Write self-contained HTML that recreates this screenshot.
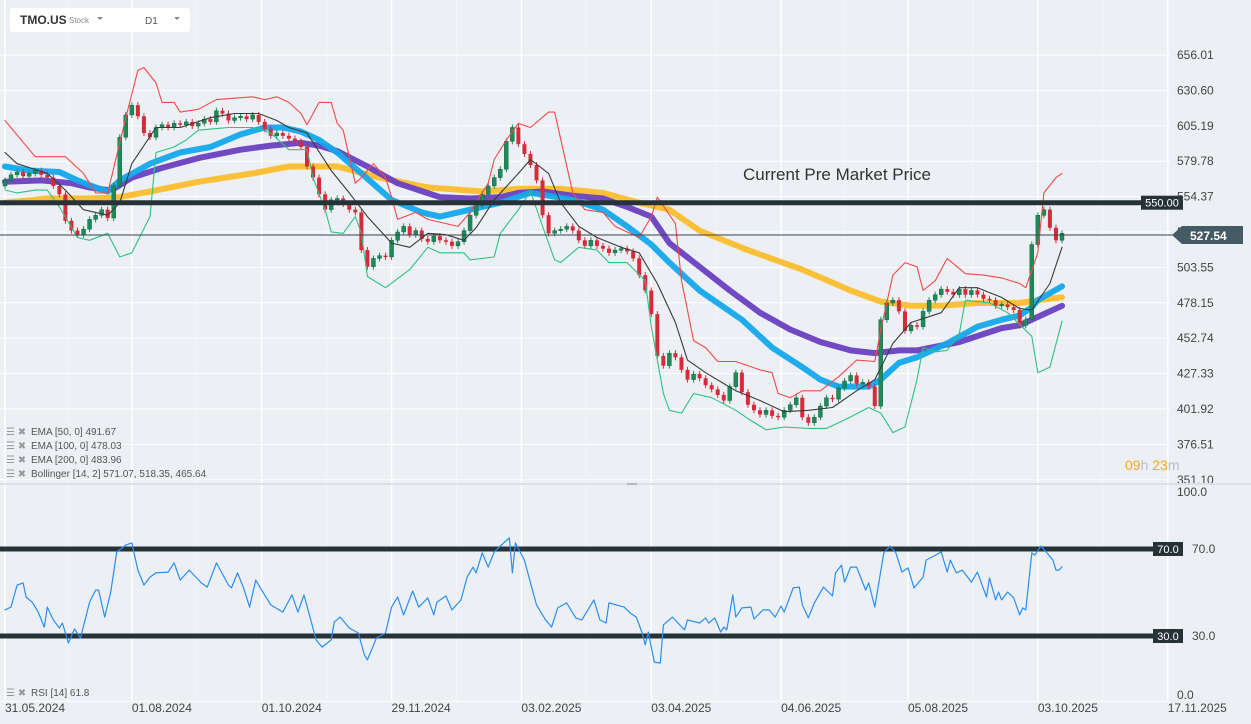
<!DOCTYPE html>
<html><head><meta charset="utf-8"><style>
html,body{margin:0;padding:0;background:#eceff3;}
body{width:1251px;height:724px;overflow:hidden;position:relative;font-family:"Liberation Sans",sans-serif;}
svg{position:absolute;left:0;top:0;}
</style></head><body>
<svg id="chart" width="1251" height="724" viewBox="0 0 1251 724" xmlns="http://www.w3.org/2000/svg">
<rect x="0" y="0" width="1251" height="724" fill="#eceff3"/>
<g id="grid"></g>
<g id="ema"></g>
<g id="candles"></g>
<g id="boll"></g>
<g id="rsi"></g>
<g id="axes"></g>
<g id="overlay">
  <line x1="0" y1="484" x2="1251" y2="484" stroke="#dde1e6" stroke-width="2"/>
  <rect x="627" y="483" width="10" height="2" fill="#b0b6bd"/>
  <line x1="0" y1="235" x2="1174" y2="235" stroke="#37474f" stroke-width="1"/>
  <path d="M1172,235 L1182,226 L1243,226 L1243,244 L1182,244 Z" fill="#455a64"/>
  <text x="1190" y="240" font-size="12" font-weight="bold" fill="#ffffff">527.54</text>
  <text x="743" y="180" font-size="17" fill="#333">Current Pre Market Price</text>
  <text x="1125" y="470" font-size="14"><tspan fill="#f5a623">09</tspan><tspan fill="#b9bec4">h </tspan><tspan fill="#f5a623">23</tspan><tspan fill="#b9bec4">m</tspan></text>
</g>
<g id="legend" font-size="10" fill="#555">
  <g><text x="6" y="435" fill="#999">☰ ✖</text><text x="31" y="435">EMA  [50,  0]  491.67</text></g>
  <g><text x="6" y="449" fill="#999">☰ ✖</text><text x="31" y="449">EMA  [100,  0]  478.03</text></g>
  <g><text x="6" y="463" fill="#999">☰ ✖</text><text x="31" y="463">EMA  [200,  0]  483.96</text></g>
  <g><text x="6" y="477" fill="#999">☰ ✖</text><text x="31" y="477">Bollinger   [14,  2]  571.07,   518.35,   465.64</text></g>
  <g><text x="6" y="696" fill="#999">☰ ✖</text><text x="31" y="696">RSI  [14]  61.8</text></g>
</g>
<g>
  <rect x="10" y="8" width="180" height="24" rx="3" fill="#ffffff"/>
  <text x="20" y="24" font-size="12" font-weight="bold" fill="#333">TMO.US</text>
  <text x="69" y="23" font-size="8" fill="#888">Stock</text>
  <path d="M97,17 L103,17 L100,20 Z" fill="#888"/>
  <text x="145" y="24" font-size="10" fill="#555">D1</text>
  <path d="M174,17 L180,17 L177,20 Z" fill="#888"/>
</g>
</svg>
<script>
// ---- data ----
const priceTicks = [656.01,630.60,605.19,579.78,554.37,528.96,503.55,478.15,452.74,427.33,401.92,376.51,351.10];
const dateLabels = ["31.05.2024","01.08.2024","01.10.2024","29.11.2024","03.02.2025","03.04.2025","04.06.2025","05.08.2025","03.10.2025","17.11.2025"];
const dateDays = [0,42,85,128,171,214,257,299,342,385];
// closes sampled every 2 trading days
const closes = [566,570,572,569,571,573,570,568,562,556,537,530,527,531,538,541,545,539,562,597,613,620,612,600,597,604,606,604,607,606,608,605,607,610,608,616,614,609,611,612,610,613,608,603,598,600,598,596,594,590,576,568,556,545,552,553,549,545,543,516,504,510,512,511,523,529,533,527,530,524,522,526,523,522,519,522,530,541,548,556,562,568,574,594,604,592,585,577,566,541,528,530,531,533,530,523,519,523,519,517,514,516,517,515,510,498,487,470,440,433,442,439,430,423,427,424,419,416,412,408,418,428,414,405,401,398,401,397,396,401,405,410,396,392,396,404,410,409,417,422,426,420,421,418,404,466,478,480,472,458,462,461,472,480,484,488,486,484,488,484,487,484,481,480,476,477,475,473,462,466,520,541,545,532,523,528];
const firstOpen = 562;
// indicator series: [barIndex (2-day), value]
const ema50 = [[0,576],[4,573],[9,572],[12,566],[15,561],[17,558],[19,566],[24,578],[29,586],[34,590],[39,599],[43,604],[46,604],[49,601],[52,595],[55,586],[59,571],[64,552],[69,543],[72,540],[77,545],[82,550],[87,557],[90,555],[94,552],[99,545],[103,533],[107,520],[110,507],[115,487],[118,478],[122,466],[127,446],[132,432],[135,423],[138,418],[143,418],[145,423],[148,435],[151,439],[156,449],[161,461],[165,466],[168,469],[170,475],[171,480],[175,490]];
const ema100 = [[0,565],[6,566],[11,564],[14,561],[17,559],[18,560],[21,568],[26,575],[32,582],[39,588],[44,591],[49,593],[52,591],[55,587],[60,576],[65,564],[72,554],[77,553],[82,554],[85,557],[89,558],[94,555],[99,553],[103,547],[107,540],[110,521],[115,504],[120,487],[125,471],[130,459],[135,450],[140,444],[144,442],[148,444],[151,444],[158,450],[165,460],[168,462],[171,468],[175,476]];
const ema200 = [[0,550],[7,553],[14,553],[19,554],[24,558],[32,565],[41,571],[47,576],[52,576],[55,576],[62,568],[70,561],[79,558],[85,560],[92,560],[99,557],[105,550],[110,545],[115,530],[123,516],[132,502],[140,487],[145,479],[150,476],[155,476],[161,478],[168,478],[171,480],[175,482]];
const bbUpper = [[0,609],[5,583],[10,583],[13,571],[15,557],[17,557],[20,611],[22,645],[23,647],[25,636],[26,622],[28,622],[29,615],[32,617],[35,624],[38,625],[41,626],[43,624],[45,626],[47,622],[49,614],[50,606],[52,622],[54,622],[55,607],[56,602],[58,564],[59,568],[61,578],[63,568],[64,554],[65,538],[68,543],[70,538],[75,533],[77,543],[80,564],[81,581],[83,595],[85,607],[87,604],[90,615],[91,615],[94,557],[96,545],[99,543],[101,533],[105,525],[107,540],[108,554],[111,535],[112,494],[114,451],[116,446],[118,436],[121,436],[125,430],[127,428],[128,413],[130,410],[132,415],[135,415],[138,425],[141,437],[144,436],[145,459],[147,498],[149,507],[151,504],[152,487],[154,494],[156,510],[159,499],[162,498],[165,496],[168,492],[169,489],[171,514],[172,557],[174,568],[175,571]];
const bbLower = [[0,559],[2,557],[5,559],[7,559],[9,547],[12,525],[14,523],[17,528],[19,511],[21,514],[24,540],[25,586],[28,590],[30,595],[32,602],[37,604],[41,604],[44,600],[47,588],[50,588],[51,568],[53,545],[54,529],[56,528],[58,540],[59,528],[60,497],[63,489],[67,502],[70,518],[72,514],[76,514],[77,509],[81,511],[82,528],[85,545],[87,558],[89,533],[91,509],[92,507],[95,518],[98,516],[100,507],[103,507],[106,494],[107,461],[109,413],[110,401],[112,399],[114,413],[117,410],[121,401],[123,395],[126,387],[129,389],[133,388],[136,388],[139,394],[143,403],[145,399],[147,385],[149,389],[151,423],[152,446],[154,443],[156,444],[158,456],[159,480],[163,478],[166,471],[170,454],[171,428],[173,432],[175,465]];
const bbMid = [[0,586],[2,578],[7,571],[10,559],[13,545],[17,541],[19,550],[21,578],[25,604],[29,604],[34,611],[38,614],[42,614],[45,609],[47,604],[50,600],[54,573],[57,557],[60,540],[64,521],[67,518],[70,528],[73,527],[76,523],[78,532],[81,552],[85,571],[87,581],[90,571],[92,550],[95,533],[98,525],[102,518],[105,514],[108,492],[111,464],[113,437],[116,428],[121,415],[125,408],[129,400],[133,401],[137,403],[141,415],[144,423],[147,449],[150,464],[155,471],[158,489],[161,489],[165,482],[168,474],[170,473],[173,492],[175,518]];
// RSI: [tradingDay, value]
const rsi = [[0,42.0],[2,43.3],[4,53.4],[6,54.4],[7,47.9],[9,45.6],[11,41.0],[13,34.1],[14,43.3],[16,37.4],[18,33.7],[19,36.0],[21,26.8],[23,33.2],[25,29.1],[28,45.6],[30,51.1],[31,51.1],[33,38.7],[35,50.2],[37,68.6],[40,71.8],[42,72.8],[44,60.3],[46,53.4],[48,57.1],[50,59.0],[54,59.4],[56,63.6],[58,55.7],[61,60.3],[65,54.4],[67,52.5],[70,63.6],[74,53.4],[75,52.1],[77,59.0],[79,52.1],[81,43.3],[83,55.7],[85,51.1],[88,44.3],[92,41.0],[95,48.9],[97,41.0],[99,48.9],[101,38.7],[103,28.2],[105,24.9],[108,28.2],[109,36.4],[111,38.7],[114,33.7],[117,31.4],[119,21.3],[120,19.0],[123,29.1],[126,31.4],[128,43.3],[130,47.9],[132,39.7],[135,50.7],[137,43.3],[140,47.5],[142,39.7],[143,45.6],[146,48.4],[148,42.0],[151,46.6],[153,57.1],[155,61.7],[156,59.0],[158,68.2],[160,61.7],[162,68.6],[164,71.4],[167,75.1],[168,59.0],[169,72.8],[172,64.9],[174,54.4],[176,44.3],[179,37.4],[181,34.1],[183,42.9],[186,45.2],[189,38.3],[191,37.4],[195,46.6],[197,37.4],[199,36.0],[200,45.2],[205,43.3],[207,40.6],[209,38.7],[211,31.4],[212,25.9],[213,31.8],[215,18.0],[217,17.6],[218,35.1],[221,38.7],[225,32.8],[226,37.4],[230,36.0],[232,38.3],[233,36.0],[235,38.3],[237,31.8],[238,34.1],[239,32.8],[241,48.9],[242,38.7],[244,42.9],[247,43.3],[248,37.8],[251,42.0],[253,42.0],[255,38.7],[257,43.8],[258,41.0],[261,52.1],[263,52.5],[264,44.3],[266,38.3],[268,45.2],[271,52.5],[274,48.4],[275,59.0],[277,62.6],[278,54.8],[280,61.7],[282,61.7],[285,51.1],[286,54.4],[288,43.3],[291,68.2],[293,71.4],[295,68.2],[297,59.4],[299,61.3],[301,52.1],[304,57.1],[305,64.9],[307,66.3],[310,68.6],[312,59.4],[313,64.9],[315,59.0],[317,60.3],[320,54.8],[322,59.4],[325,47.9],[326,56.7],[328,46.6],[329,50.2],[330,46.6],[332,50.2],[334,47.5],[336,39.7],[337,42.9],[338,42.0],[340,68.2],[341,67.2],[343,71.4],[345,68.2],[347,64.9],[348,60.3],[349,60.3],[350,61.8]];
const priceLevel = 550.00;
const rsiLevels = [70, 30];
const rsiTicks = [100, 70, 30, 0];

// ---- scales ----
const NS='http://www.w3.org/2000/svg';
const xDay = t => 5 + t*3.02;
const xBar = b => xDay(2*b);
const yP = p => 55 + (656.01 - p)*35.4/25.41;
const yR = v => 636 - (v - 30)*2.175;
function mk(tag, attrs, parent){const e=document.createElementNS(NS,tag);for(const k in attrs)e.setAttribute(k,attrs[k]);parent.appendChild(e);return e;}
const G = id => document.getElementById(id);

// grid
const grid=G('grid');
priceTicks.forEach(p=>{
  const l=mk('line',{x1:0,x2:1170,y1:yP(p),y2:yP(p),stroke:'#ffffff','stroke-width':1},grid);
  
  
});
dateDays.forEach((d,i)=>{
  const l=mk('line',{x1:xDay(d),x2:xDay(d),y1:0,y2:700,stroke:'#ffffff','stroke-width':1.5},grid);
  
  
  if(i<dateDays.length-1){
    const m=(xDay(d)+xDay(dateDays[i+1]))/2;
    const l2=mk('line',{x1:m,x2:m,y1:0,y2:700,stroke:'#f4f6f8','stroke-width':1},grid);
    
    
  }
});
rsiTicks.forEach(v=>{
  const l=mk('line',{x1:0,x2:1170,y1:yR(v),y2:yR(v),stroke:'#ffffff','stroke-width':1},grid);
  
  
});

function poly(data, xf, yf, color, w, parent, name, op){
  const pts=data.map(d=>xf(d[0]).toFixed(1)+','+yf(d[1]).toFixed(1)).join(' ');
  const e=mk('polyline',{points:pts,fill:'none',stroke:color,'stroke-width':w,'stroke-linejoin':'round','stroke-linecap':'round',opacity:op||1},parent);
  
  
  return e;
}
// EMAs
const emaG=G('ema');
poly(ema200,xBar,yP,'#fbbd2c',6,emaG,'ema-200-line',0.95);
poly(ema100,xBar,yP,'#6a3fc0',6,emaG,'ema-100-line',0.95);
poly(ema50,xBar,yP,'#14a8ec',6,emaG,'ema-50-line',0.95);

// candles
const cg=G('candles');
closes.forEach((c,i)=>{
  const o = i===0 ? firstOpen : closes[i-1];
  const up = c>=o;
  const col = up ? '#1d8a5a' : '#d62b3a';
  const x = xBar(i);
  const top = yP(Math.max(o,c)), bot = yP(Math.min(o,c));
  const w = mk('line',{x1:x,x2:x,y1:top-3,y2:bot+3,stroke:col,'stroke-width':1},cg);
  
  
  const b = mk('rect',{x:x-2,y:top,width:4,height:Math.max(1.5,bot-top),fill:col,stroke:'#0f5c3a','stroke-width':up?0.4:0},cg);
  
  
});

// Bollinger
const bg=G('boll');
poly(bbUpper,xBar,yP,'#f04a4a',1.1,bg,'bollinger-upper');
poly(bbLower,xBar,yP,'#2cc283',1.1,bg,'bollinger-lower');
poly(bbMid,xBar,yP,'#3a3a3a',1.1,bg,'bollinger-middle');

// price level line
const ax=G('axes');
const pl=mk('line',{x1:0,x2:1145,y1:yP(priceLevel),y2:yP(priceLevel),stroke:'#263238','stroke-width':5},ax);


const pb=mk('rect',{x:1141,y:yP(priceLevel)-7,width:42,height:14,fill:'#263238'},ax);


const pt=mk('text',{x:1162,y:yP(priceLevel)+4,'font-size':11,fill:'#fff','text-anchor':'middle'},ax);
pt.textContent=priceLevel.toFixed(2);



// RSI
const rg=G('rsi');
rsiLevels.forEach(v=>{
  const l=mk('line',{x1:0,x2:1155,y1:yR(v),y2:yR(v),stroke:'#263238','stroke-width':5},rg);
  
  
  const b=mk('rect',{x:1153,y:yR(v)-7,width:30,height:14,fill:'#263238'},rg);
  
  
  const t=mk('text',{x:1168,y:yR(v)+4,'font-size':11,fill:'#fff','text-anchor':'middle'},rg);
  t.textContent=v.toFixed(1);
  
  
});
poly(rsi,xDay,yR,'#2a8ff0',1.2,rg,'rsi-line');

// axis labels
priceTicks.forEach(p=>{
  const t=mk('text',{x:1177,y:yP(p)+4,'font-size':12,fill:'#444'},ax);
  t.textContent=p.toFixed(2);
  
  
});
rsiTicks.forEach(v=>{
  const yy = v===100 ? 496 : (v===0 ? 699 : yR(v)+4);
  const xx = (v===70||v===30) ? 1192 : 1177;
  const t=mk('text',{x:xx,y:yy,'font-size':12,fill:'#444'},ax);
  t.textContent=v.toFixed(1);
  
  
});
dateLabels.forEach((s,i)=>{
  const t=mk('text',{x:xDay(dateDays[i]),y:712,'font-size':12,fill:'#444'},ax);
  t.textContent=s;
  
  
});
// keep last-price marker on top of axis labels
document.getElementById('chart').appendChild(document.getElementById('overlay'));
</script>
</body></html>
